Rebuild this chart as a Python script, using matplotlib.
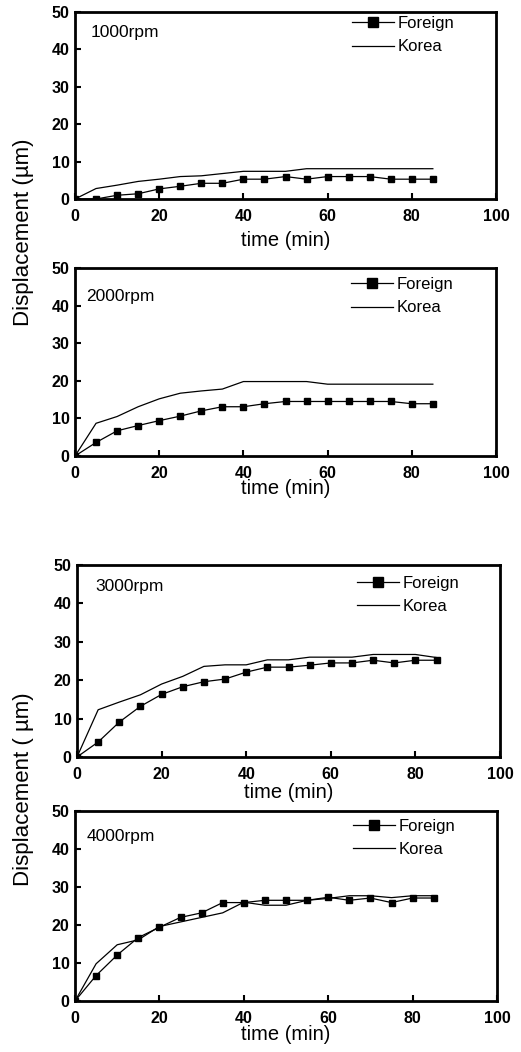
import matplotlib
matplotlib.use("Agg")
import matplotlib.pyplot as plt

plt.rcParams['font.family'] = ['Liberation Sans', 'DejaVu Sans']

time = [0, 5, 10, 15, 20, 25, 30, 35, 40, 45, 50, 55, 60, 65, 70, 75, 80, 85]

foreign_1000 = [0, 0, 1.0, 1.4, 2.7, 3.4, 4.2, 4.2, 5.3, 5.3, 6.0, 5.3, 6.0, 6.0, 6.0, 5.3, 5.3, 5.3]
korea_1000 = [0, 2.8, 3.7, 4.7, 5.3, 6.0, 6.2, 6.8, 7.4, 7.4, 7.4, 8.1, 8.1, 8.1, 8.1, 8.1, 8.1, 8.1]

foreign_2000 = [0, 3.6, 6.7, 8.1, 9.4, 10.6, 12.0, 13.1, 13.1, 13.9, 14.5, 14.5, 14.5, 14.5, 14.5, 14.5, 13.9, 13.9]
korea_2000 = [0, 8.7, 10.5, 13.1, 15.2, 16.7, 17.3, 17.8, 19.8, 19.8, 19.8, 19.8, 19.1, 19.1, 19.1, 19.1, 19.1, 19.1]

foreign_3000 = [0, 3.9, 9.1, 13.2, 16.3, 18.3, 19.6, 20.3, 22.1, 23.4, 23.4, 23.9, 24.5, 24.5, 25.2, 24.5, 25.2, 25.2]
korea_3000 = [0, 12.3, 14.3, 16.2, 19.0, 21.0, 23.6, 24.0, 24.0, 25.3, 25.3, 26.0, 26.0, 26.0, 26.7, 26.7, 26.7, 25.9]

foreign_4000 = [0, 6.7, 12.1, 16.7, 19.4, 22.0, 23.2, 25.9, 25.9, 26.5, 26.5, 26.5, 27.3, 26.5, 27.1, 25.9, 27.1, 27.1]
korea_4000 = [0, 9.8, 14.8, 16.1, 19.6, 20.8, 22.0, 23.2, 26.0, 25.2, 25.2, 26.5, 27.0, 27.7, 27.7, 27.2, 27.7, 27.7]

labels = ['1000rpm', '2000rpm', '3000rpm', '4000rpm']
foreign = [foreign_1000, foreign_2000, foreign_3000, foreign_4000]
korea = [korea_1000, korea_2000, korea_3000, korea_4000]

xticks = [0, 20, 40, 60, 80, 100]
yticks = [0, 10, 20, 30, 40, 50]

W, H = 521, 1052
fig = plt.figure(figsize=(W / 100, H / 100), dpi=100)

boxes = [(75, 12, 496, 199), (75, 268, 496, 456), (77, 565, 500, 757), (75, 811, 497, 1001)]
xlabel_y = [241, 489, 793, 1035]
rpm_pos = [(91, 33), (86, 297), (95, 587), (87, 836)]
legend_pos = [(352, 16), (351, 277), (357, 576), (353, 819)]

for i, (l, t, r, b) in enumerate(boxes):
    ax = fig.add_axes([l / W, 1 - b / H, (r - l) / W, (b - t) / H])
    ax.plot(time, foreign[i], color='black', lw=0.9, marker='s', ms=5, label='Foreign')
    ax.plot(time, korea[i], color='black', lw=0.9, label='Korea')
    ax.set_xlim(0, 100)
    ax.set_ylim(0, 50)
    ax.set_xticks(xticks)
    ax.set_yticks(yticks)
    ax.tick_params(direction='in', length=4, width=1.5, labelsize=11.5)
    ax.tick_params(axis='x', pad=7)
    ax.tick_params(axis='y', pad=4)
    for lab in ax.get_xticklabels() + ax.get_yticklabels():
        lab.set_fontweight('bold')
    for s in ax.spines.values():
        s.set_linewidth(2)
    px, py = rpm_pos[i]
    ax.text((px - l) / (r - l), (b - py) / (b - t), labels[i], transform=ax.transAxes,
            fontsize=12.5, va='center', ha='left')
    lx, ly = legend_pos[i]
    ax.legend(loc='upper left', frameon=False, fontsize=12, handlelength=2.5,
              handletextpad=0.25, labelspacing=0.5, borderaxespad=0, borderpad=0,
              markerscale=1.4,
              bbox_to_anchor=((lx - l) / (r - l), (b - ly) / (b - t)))
    fig.text(((l + r) / 2) / W, 1 - xlabel_y[i] / H, 'time (min)', ha='center',
             va='center', fontsize=14.5)

fig.text(24 / W, 1 - 232 / H, 'Displacement (\u00b5m)', rotation=90, ha='center',
         va='center', fontsize=16)
fig.text(24 / W, 1 - 789 / H, 'Displacement ( \u00b5m)', rotation=90, ha='center',
         va='center', fontsize=16)

fig.savefig('out.png', dpi=100)
